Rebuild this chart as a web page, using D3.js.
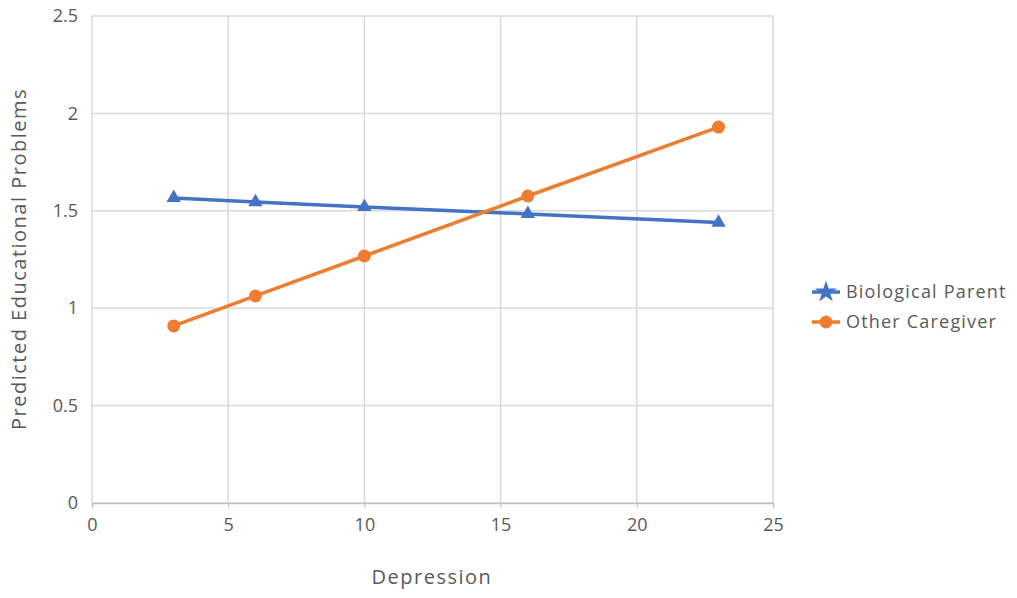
<!DOCTYPE html>
<html><head><meta charset="utf-8">
<script src="https://cdn.jsdelivr.net/npm/d3@7"></script>
<style>body{margin:0;background:#fff}text{font-family:"Open Sans",sans-serif;fill:#595959}</style>
</head><body><svg id="c" width="1017" height="598"></svg>
<script>
const xValues = [3, 6, 10, 16, 23];
const biological = [1.566, 1.545, 1.52, 1.484, 1.44];
const otherCaregiver = [0.909, 1.063, 1.268, 1.576, 1.93];
const seriesNames = ["Biological Parent", "Other Caregiver"];
const xTicks = [0, 5, 10, 15, 20, 25];
const yTicks = [0, 0.5, 1, 1.5, 2, 2.5];

const svg = d3.select("#c");
const x = d3.scaleLinear().domain([0, 25]).range([92, 773]);
const y = d3.scaleLinear().domain([0, 2.5]).range([503, 16]);
const grid = "#d9d9d9";

const g = svg.append("g");
g.selectAll(".gy").data(yTicks).join("line")
  .attr("x1", x(0)).attr("x2", x(25)).attr("y1", d => y(d)).attr("y2", d => y(d))
  .attr("stroke", grid).attr("stroke-width", 1.5);
g.selectAll(".gx").data(xTicks).join("line")
  .attr("x1", d => x(d)).attr("x2", d => x(d)).attr("y1", y(0)).attr("y2", y(2.5) )
  .attr("stroke", grid).attr("stroke-width", 1.5);

const xAxis = svg.append("g").attr("transform", `translate(0,${y(0)})`)
  .call(d3.axisBottom(x).tickValues(xTicks).tickSize(5).tickPadding(10).tickFormat(d3.format("")));
xAxis.select(".domain").attr("stroke", "#bfbfbf").attr("stroke-width", 1.5);
xAxis.selectAll(".tick line").attr("stroke", "#bfbfbf");
xAxis.selectAll("text").attr("font-size", 18).attr("fill", "#595959");

const yAxis = svg.append("g").attr("transform", `translate(${x(0)},0)`)
  .call(d3.axisLeft(y).tickValues(yTicks).tickSize(0).tickPadding(14).tickFormat(d3.format("")));
yAxis.select(".domain").remove();
yAxis.selectAll("text").attr("font-size", 18).attr("fill", "#595959");

svg.append("text").attr("x", 432).attr("y", 584).attr("text-anchor", "middle")
  .attr("font-size", 20).attr("letter-spacing", 1.5).text("Depression");
svg.append("text").attr("transform", "translate(26,259) rotate(-90)").attr("text-anchor", "middle")
  .attr("font-size", 20).attr("letter-spacing", 1.5).text("Predicted Educational Problems");

const line = d3.line().x((d, i) => x(xValues[i])).y(d => y(d));
const colors = ["#4472C4", "#ED7D31"];
[biological, otherCaregiver].forEach((s, k) => {
  svg.append("path").datum(s).attr("d", line).attr("fill", "none")
    .attr("stroke", colors[k]).attr("stroke-width", 3.5);
});
svg.selectAll(".tri").data(biological).join("path")
  .attr("transform", (d, i) => `translate(${x(xValues[i])},${y(d)})`)
  .attr("d", d3.symbol(d3.symbolTriangle, 90)).attr("fill", colors[0]);
svg.selectAll(".cir").data(otherCaregiver).join("circle")
  .attr("cx", (d, i) => x(xValues[i])).attr("cy", d => y(d)).attr("r", 6.5).attr("fill", colors[1]);

// legend
const lg = svg.append("g");
lg.append("line").attr("x1", 812).attr("x2", 840).attr("y1", 292).attr("y2", 292).attr("stroke", colors[0]).attr("stroke-width", 3.5);
lg.append("path").attr("transform", "translate(826,292)").attr("d", d3.symbol(d3.symbolStar, 150)).attr("fill", colors[0]);
lg.append("line").attr("x1", 812).attr("x2", 840).attr("y1", 322).attr("y2", 322).attr("stroke", colors[1]).attr("stroke-width", 3.5);
lg.append("circle").attr("cx", 826).attr("cy", 322).attr("r", 6.5).attr("fill", colors[1]);
lg.selectAll("text").data(seriesNames).join("text")
  .attr("x", 846).attr("y", (d, i) => 292 + i * 30).attr("dy", "0.35em").attr("font-size", 18)
  .attr("letter-spacing", 1.2).text(d => d);
</script></body></html>
